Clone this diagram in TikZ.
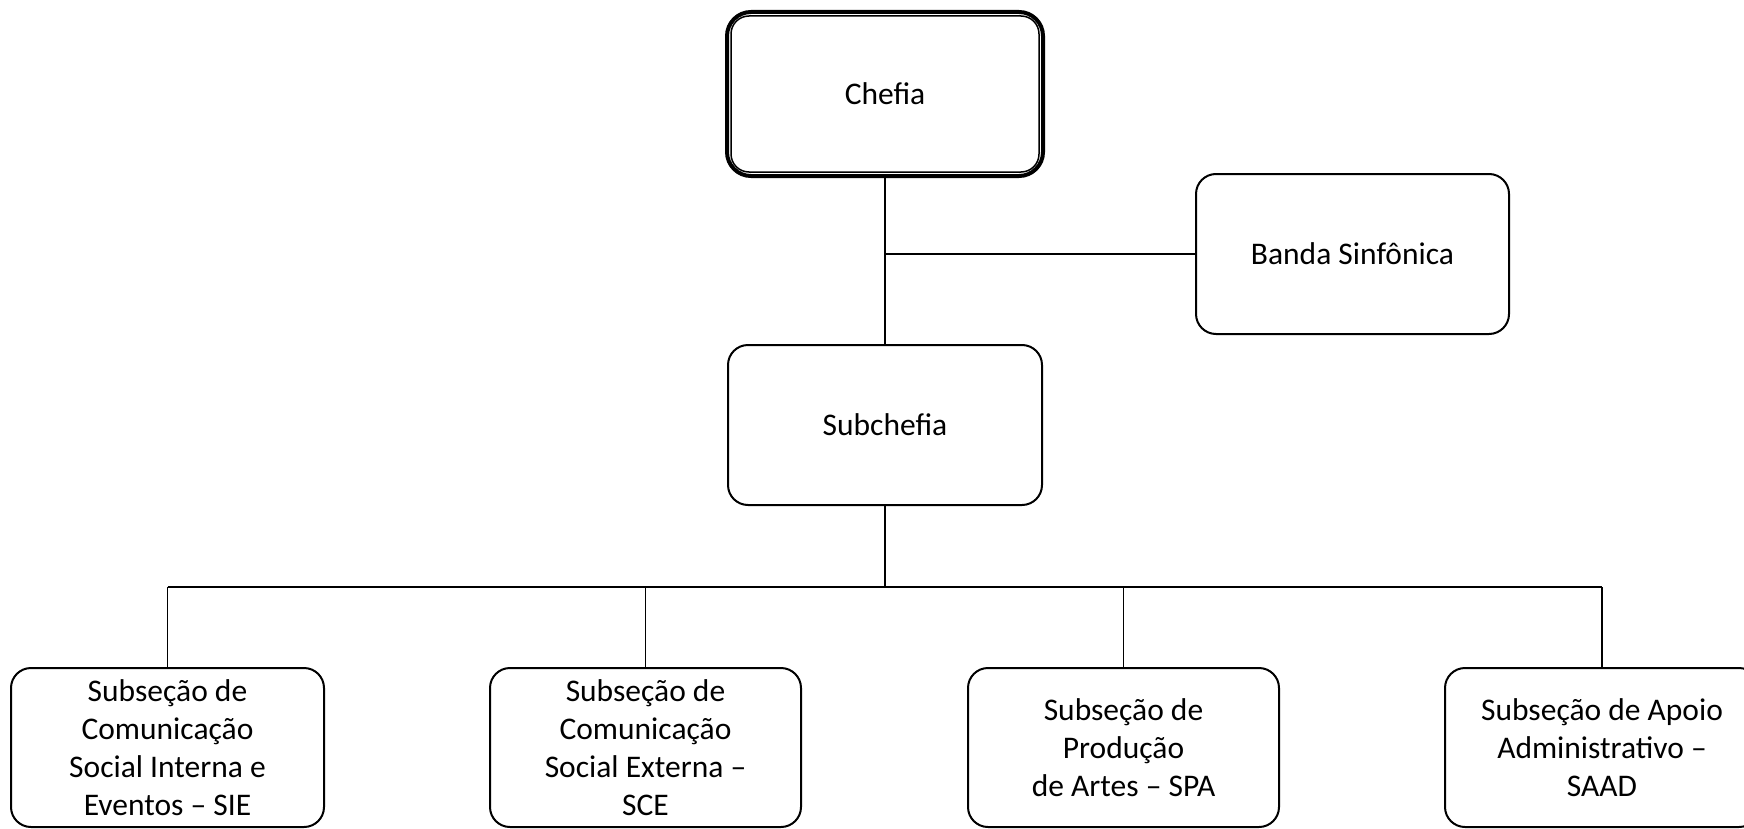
\documentclass[tikz,border=0pt]{standalone}
\usepackage{fontspec}
\setmainfont{Carlito}
\begin{document}
\begin{tikzpicture}[x=0.5pt,y=-0.5pt,
  box/.style={draw, line width=1pt, rounded corners=10pt, inner sep=0pt, outer sep=0pt,
    align=center, font=\fontsize{15.75pt}{18.9pt}\selectfont},
  midbox/.style={box, minimum width=157pt, minimum height=80pt},
  lowbox/.style={box, minimum width=156pt, minimum height=79.5pt},
  conn/.style={line width=0.6pt}]
\useasboundingbox (0,0) rectangle (1744,829);
\clip (0,0) rectangle (1744,829);
% top
\node[box, line width=2pt, rounded corners=12pt, minimum width=158pt, minimum height=82pt] (chefia) at (885,94) {Chefia};
\draw[line width=0.75pt, rounded corners=9pt] ([xshift=2pt,yshift=2pt]chefia.south west) rectangle ([xshift=-2pt,yshift=-2pt]chefia.north east);
\node[box, minimum width=156.5pt, minimum height=80pt] (banda) at (1352.5,254) {Banda Sinfônica};
\node[midbox] (sub) at (885,425) {Subchefia};
% bottom
\node[lowbox, minimum width=156.5pt] (b1) at (167.5,747.5) {Subseção de\\Comunicação\\Social Interna e\\Eventos – SIE};
\node[lowbox, minimum width=155.5pt] (b2) at (645.5,747.5) {Subseção de\\Comunicação\\Social Externa –\\SCE};
\node[lowbox, minimum width=155.5pt] (b3) at (1123.5,747.5) {Subseção de\\Produção\\de Artes – SPA};
\node[lowbox, minimum width=157pt] (b4) at (1602,747.5) {Subseção de Apoio\\Administrativo –\\SAAD};
% connectors
\coordinate (j1) at (885,254);
\coordinate (bus) at (885,587);
\draw[conn] (chefia.south) -- (sub.north);
\draw[conn] (j1) -- (banda.west);
\draw[conn] (sub.south) -- (bus);
\draw[conn] (b1.north |- bus) -- (b4.north |- bus);
\draw[conn] (b1.north |- bus) -- (b1.north);
\draw[conn] (b2.north |- bus) -- (b2.north);
\draw[conn] (b3.north |- bus) -- (b3.north);
\draw[conn] (b4.north |- bus) -- (b4.north);
\end{tikzpicture}
\end{document}
